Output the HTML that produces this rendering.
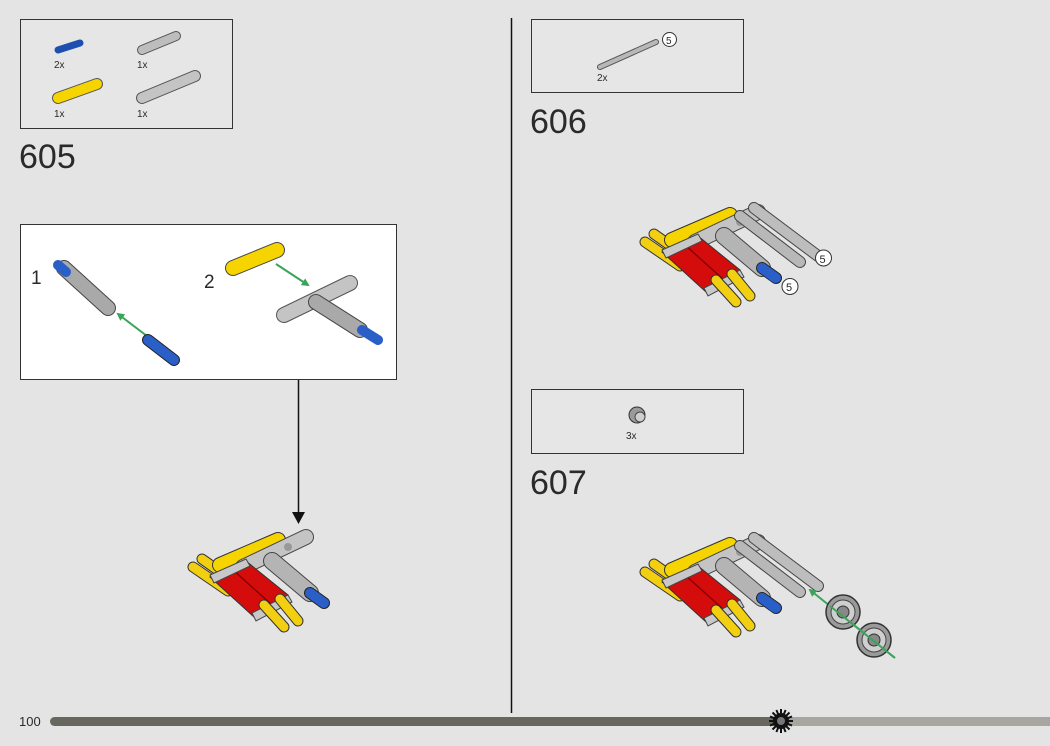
<!DOCTYPE html>
<html><head><meta charset="utf-8"><style>
html,body{margin:0;padding:0;background:#e4e4e4;}
svg{display:block;}
text{font-family:"Liberation Sans",sans-serif;fill:#2a2a2a;}
</style></head><body>
<svg width="1050" height="746" viewBox="0 0 1050 746" xmlns="http://www.w3.org/2000/svg">
<defs>
<marker id="ga" markerWidth="8" markerHeight="8" refX="6" refY="4" orient="auto" markerUnits="userSpaceOnUse"><path d="M0,0 L8,4 L0,8 z" fill="#3aa55a"/></marker>
<g id="asm">
  <line x1="5" y1="42" x2="40" y2="66" stroke="#333" stroke-width="11" stroke-linecap="round"/>
  <line x1="5" y1="42" x2="40" y2="66" stroke="#f2cf10" stroke-width="9" stroke-linecap="round"/>
  <line x1="14" y1="34" x2="48" y2="58" stroke="#333" stroke-width="11" stroke-linecap="round"/>
  <line x1="14" y1="34" x2="48" y2="58" stroke="#f2cf10" stroke-width="9" stroke-linecap="round"/>
  <line x1="32" y1="40" x2="90" y2="15" stroke="#333" stroke-width="16" stroke-linecap="round"/>
  <line x1="32" y1="40" x2="90" y2="15" stroke="#f5d400" stroke-width="14" stroke-linecap="round"/>
  <line x1="55" y1="42" x2="118" y2="12" stroke="#444" stroke-width="16" stroke-linecap="round"/>
  <line x1="55" y1="42" x2="118" y2="12" stroke="#c4c4c4" stroke-width="14" stroke-linecap="round"/>
  <circle cx="100" cy="22" r="4" fill="#999"/>
  <path d="M22 52 L58 36 L100 70 L66 92 Z" fill="#d50c0c" stroke="#333" stroke-width="1"/>
  <line x1="44" y1="44" x2="84" y2="80" stroke="#8a0000" stroke-width="1.5"/>
  <path d="M22 50 L58 34 L62 41 L26 58 Z" fill="#c8c8c8" stroke="#444" stroke-width="1"/>
  <path d="M64 88 L100 70 L104 77 L68 96 Z" fill="#c8c8c8" stroke="#444" stroke-width="1"/>
  <line x1="76" y1="80" x2="96" y2="102" stroke="#333" stroke-width="11" stroke-linecap="round"/>
  <line x1="76" y1="80" x2="96" y2="102" stroke="#f2cf10" stroke-width="9" stroke-linecap="round"/>
  <line x1="92" y1="74" x2="110" y2="96" stroke="#333" stroke-width="11" stroke-linecap="round"/>
  <line x1="92" y1="74" x2="110" y2="96" stroke="#f2cf10" stroke-width="9" stroke-linecap="round"/>
  <line x1="84" y1="36" x2="122" y2="68" stroke="#444" stroke-width="18" stroke-linecap="round"/>
  <line x1="84" y1="36" x2="122" y2="68" stroke="#b4b4b4" stroke-width="16" stroke-linecap="round"/>
  <line x1="122" y1="68" x2="136" y2="78" stroke="#222" stroke-width="12" stroke-linecap="round"/>
  <line x1="122" y1="68" x2="136" y2="78" stroke="#2a5fc8" stroke-width="10" stroke-linecap="round"/>
</g>
<g id="axles">
  <line x1="100" y1="16" x2="160" y2="62" stroke="#444" stroke-width="12" stroke-linecap="round"/>
  <line x1="100" y1="16" x2="160" y2="62" stroke="#b8b8b8" stroke-width="10" stroke-linecap="round"/>
  <line x1="114" y1="8" x2="178" y2="56" stroke="#444" stroke-width="12" stroke-linecap="round"/>
  <line x1="114" y1="8" x2="178" y2="56" stroke="#bdbdbd" stroke-width="10" stroke-linecap="round"/>
</g>
<g id="wheel">
  <circle r="17" fill="#9a9a9a" stroke="#333" stroke-width="1.5"/>
  <circle r="12" fill="#cfcfcf" stroke="#444" stroke-width="1"/>
  <circle r="6" fill="#888" stroke="#333" stroke-width="1"/>
</g>
</defs>

<line x1="511.5" y1="18" x2="511.5" y2="713" stroke="#111" stroke-width="1.5"/>

<rect x="20.5" y="19.5" width="212" height="109" fill="#e6e6e6" stroke="#333" stroke-width="1"/>
<line x1="58" y1="50" x2="80" y2="43" stroke="#1d4fae" stroke-width="7" stroke-linecap="round"/>
<text x="54" y="68" font-size="10">2x</text>
<line x1="142" y1="50" x2="176" y2="36" stroke="#555" stroke-width="10" stroke-linecap="round"/>
<line x1="142" y1="50" x2="176" y2="36" stroke="#bdbdbd" stroke-width="8" stroke-linecap="round"/>
<text x="137" y="68" font-size="10">1x</text>
<line x1="58" y1="98" x2="97" y2="84" stroke="#555" stroke-width="12" stroke-linecap="round"/>
<line x1="58" y1="98" x2="97" y2="84" stroke="#f5d400" stroke-width="10" stroke-linecap="round"/>
<text x="54" y="117" font-size="10">1x</text>
<line x1="142" y1="98" x2="195" y2="76" stroke="#555" stroke-width="12" stroke-linecap="round"/>
<line x1="142" y1="98" x2="195" y2="76" stroke="#c4c4c4" stroke-width="10" stroke-linecap="round"/>
<text x="137" y="117" font-size="10">1x</text>

<text x="19" y="168" font-size="34">605</text>

<rect x="20.5" y="224.5" width="376" height="155" fill="#fff" stroke="#333" stroke-width="1"/>
<text x="31" y="284" font-size="19">1</text>
<text x="204" y="288" font-size="19">2</text>
<line x1="64" y1="268" x2="108" y2="308" stroke="#444" stroke-width="16" stroke-linecap="round"/>
<line x1="64" y1="268" x2="108" y2="308" stroke="#a9a9a9" stroke-width="14" stroke-linecap="round"/>
<line x1="58" y1="265" x2="66" y2="272" stroke="#2a5fc8" stroke-width="10" stroke-linecap="round"/>
<line x1="168" y1="352" x2="118" y2="314" stroke="#3aa55a" stroke-width="2" marker-end="url(#ga)"/>
<line x1="148" y1="340" x2="174" y2="360" stroke="#222" stroke-width="12" stroke-linecap="round"/>
<line x1="148" y1="340" x2="174" y2="360" stroke="#2a5fc8" stroke-width="10" stroke-linecap="round"/>
<line x1="233" y1="268" x2="277" y2="250" stroke="#444" stroke-width="16" stroke-linecap="round"/>
<line x1="233" y1="268" x2="277" y2="250" stroke="#f5d400" stroke-width="14" stroke-linecap="round"/>
<line x1="276" y1="264" x2="308" y2="285" stroke="#3aa55a" stroke-width="2" marker-end="url(#ga)"/>
<line x1="284" y1="315" x2="350" y2="283" stroke="#555" stroke-width="16" stroke-linecap="round"/>
<line x1="284" y1="315" x2="350" y2="283" stroke="#c4c4c4" stroke-width="14" stroke-linecap="round"/>
<line x1="316" y1="302" x2="360" y2="330" stroke="#444" stroke-width="16" stroke-linecap="round"/>
<line x1="316" y1="302" x2="360" y2="330" stroke="#a9a9a9" stroke-width="14" stroke-linecap="round"/>
<line x1="362" y1="330" x2="378" y2="340" stroke="#2a5fc8" stroke-width="10" stroke-linecap="round"/>

<line x1="298.5" y1="380" x2="298.5" y2="513" stroke="#111" stroke-width="1.5"/>
<path d="M292 512 L305 512 L298.5 524 Z" fill="#111"/>

<use href="#asm" x="188" y="525"/>

<rect x="531.5" y="19.5" width="212" height="73" fill="#e6e6e6" stroke="#333" stroke-width="1"/>
<line x1="600" y1="67" x2="656" y2="42" stroke="#555" stroke-width="6" stroke-linecap="round"/>
<line x1="600" y1="67" x2="656" y2="42" stroke="#b8b8b8" stroke-width="4" stroke-linecap="round"/>
<circle cx="669.5" cy="39.5" r="7" fill="#fff" stroke="#333"/>
<text x="666" y="44" font-size="10">5</text>
<text x="597" y="81" font-size="10">2x</text>
<text x="530" y="133" font-size="34">606</text>
<use href="#asm" x="640" y="200"/>
<use href="#axles" x="640" y="200"/>
<line x1="762" y1="268" x2="774" y2="277" stroke="#2a5fc8" stroke-width="10" stroke-linecap="round"/>
<circle cx="823.5" cy="258" r="8" fill="#fff" stroke="#333"/>
<text x="819.5" y="263" font-size="11">5</text>
<circle cx="790" cy="286.5" r="8" fill="#fff" stroke="#333"/>
<text x="786" y="291" font-size="11">5</text>

<rect x="531.5" y="389.5" width="212" height="64" fill="#e6e6e6" stroke="#333" stroke-width="1"/>
<circle cx="637" cy="415" r="8" fill="#9a9a9a" stroke="#333"/>
<circle cx="640" cy="417" r="5" fill="#cfcfcf" stroke="#444"/>
<text x="626" y="439" font-size="10">3x</text>
<text x="530" y="494" font-size="34">607</text>
<use href="#asm" x="640" y="530"/>
<use href="#axles" x="640" y="530"/>
<line x1="762" y1="598" x2="774" y2="607" stroke="#2a5fc8" stroke-width="10" stroke-linecap="round"/>
<line x1="895" y1="658" x2="810" y2="590" stroke="#3aa55a" stroke-width="2" marker-end="url(#ga)"/>
<use href="#wheel" x="843" y="612"/>
<use href="#wheel" x="874" y="640"/>
<line x1="895" y1="658" x2="830" y2="606" stroke="#3aa55a" stroke-width="2"/>

<text x="19" y="726" font-size="13">100</text>
<rect x="50" y="717" width="735" height="9" rx="4.5" fill="#67665f"/>
<rect x="780" y="717" width="270" height="9" fill="#a9a6a1"/>
<g transform="translate(781,721)">
  <circle r="8" fill="#111"/>
  <g stroke="#111" stroke-width="2">
    <line x1="0" y1="-12" x2="0" y2="12"/><line x1="-12" y1="0" x2="12" y2="0"/>
    <line x1="-8.5" y1="-8.5" x2="8.5" y2="8.5"/><line x1="-8.5" y1="8.5" x2="8.5" y2="-8.5"/>
    <line x1="-4.6" y1="-11" x2="4.6" y2="11"/><line x1="-11" y1="-4.6" x2="11" y2="4.6"/>
    <line x1="-4.6" y1="11" x2="4.6" y2="-11"/><line x1="-11" y1="4.6" x2="11" y2="-4.6"/>
  </g>
  <circle r="4" fill="#777"/>
</g>
</svg>
</body></html>
